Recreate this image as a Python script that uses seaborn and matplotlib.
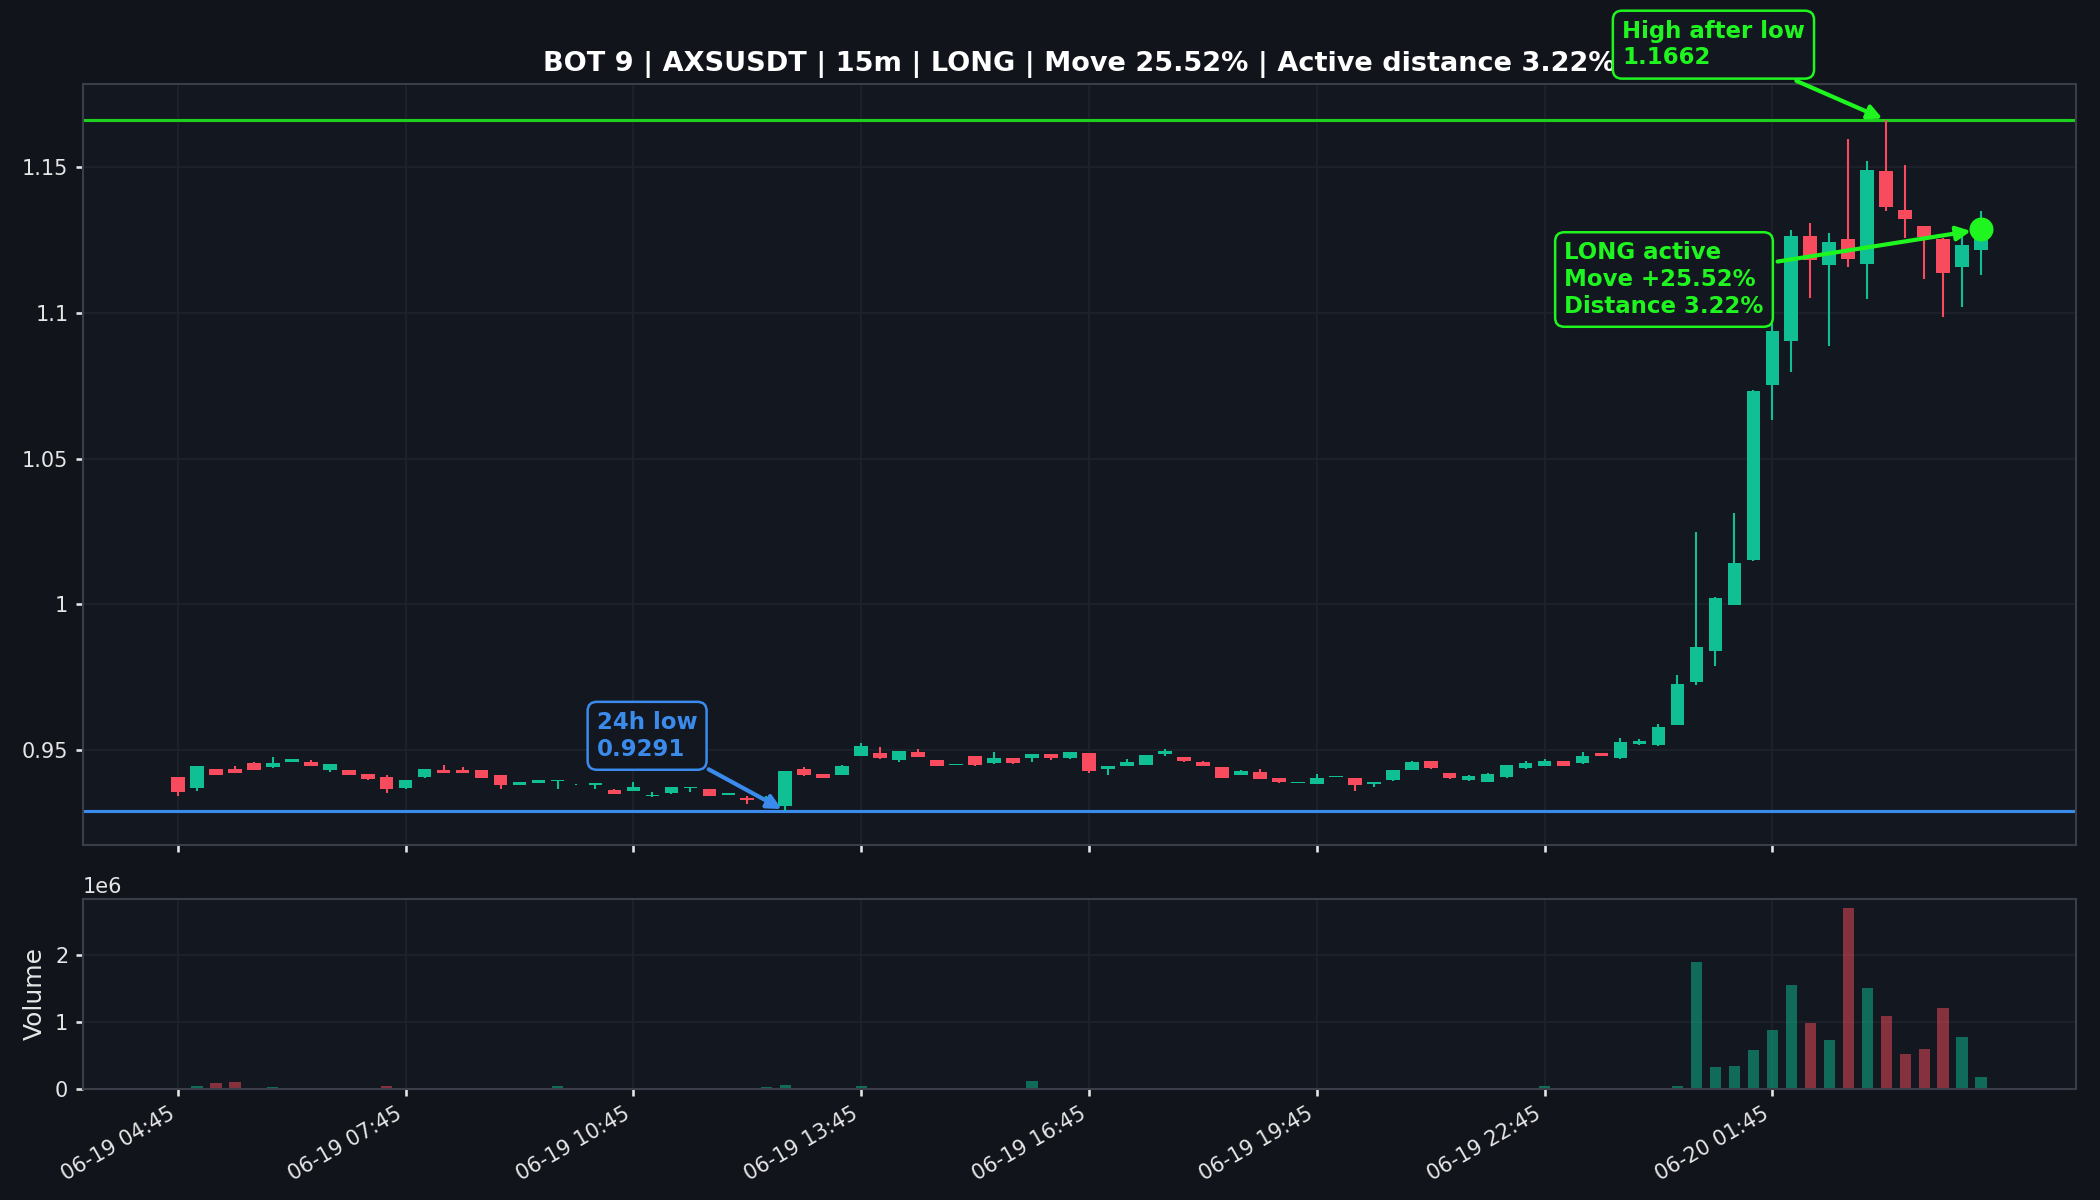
import matplotlib
matplotlib.use("Agg")
import matplotlib.pyplot as plt
import seaborn as sns
import numpy as np
import pandas as pd
from matplotlib.ticker import FuncFormatter, MultipleLocator

# AXSUSDT 15m candles, 06-19 04:45 -> 06-20 04:30
opens = [0.9407, 0.9369, 0.9434, 0.9436, 0.9456, 0.9441, 0.9459, 0.9458, 0.9430, 0.9430,
         0.9417, 0.9407, 0.9369, 0.9407, 0.9431, 0.9430, 0.9430, 0.9414, 0.9381, 0.9387,
         0.9395, 0.9382, 0.9379, 0.9364, 0.9359, 0.9343, 0.9352, 0.9370, 0.9365, 0.9347,
         0.9335, 0.9328, 0.9307, 0.9435, 0.9417, 0.9416, 0.9481, 0.9490, 0.9465, 0.9495,
         0.9465, 0.9450, 0.9479, 0.9454, 0.9473, 0.9472, 0.9486, 0.9472, 0.9490, 0.9434,
         0.9447, 0.9450, 0.9485, 0.9476, 0.9460, 0.9442, 0.9415, 0.9425, 0.9404, 0.9388,
         0.9385, 0.9409, 0.9404, 0.9382, 0.9396, 0.9433, 0.9463, 0.9421, 0.9396, 0.9392,
         0.9406, 0.9437, 0.9447, 0.9463, 0.9454, 0.9489, 0.9472, 0.9520, 0.9516, 0.9587,
         0.9734, 0.9841, 0.9999, 1.0151, 1.0753, 1.0903, 1.1266, 1.1164, 1.1254, 1.1167,
         1.1487, 1.1354, 1.1297, 1.1254, 1.1157, 1.1218]
highs = [0.9409, 0.9446, 0.9435, 0.9445, 0.9460, 0.9476, 0.9470, 0.9465, 0.9453, 0.9431,
         0.9418, 0.9415, 0.9398, 0.9436, 0.9449, 0.9441, 0.9431, 0.9415, 0.9391, 0.9398,
         0.9397, 0.9383, 0.9388, 0.9365, 0.9390, 0.9356, 0.9374, 0.9373, 0.9366, 0.9354,
         0.9344, 0.9342, 0.9428, 0.9441, 0.9418, 0.9448, 0.9524, 0.9510, 0.9497, 0.9504,
         0.9466, 0.9453, 0.9480, 0.9493, 0.9474, 0.9487, 0.9487, 0.9494, 0.9491, 0.9445,
         0.9470, 0.9484, 0.9504, 0.9477, 0.9461, 0.9443, 0.9432, 0.9436, 0.9405, 0.9391,
         0.9419, 0.9411, 0.9405, 0.9391, 0.9433, 0.9461, 0.9464, 0.9422, 0.9413, 0.9420,
         0.9450, 0.9461, 0.9470, 0.9464, 0.9493, 0.9490, 0.9542, 0.9538, 0.9590, 0.9759,
         1.0248, 1.0024, 1.0313, 1.0735, 1.0964, 1.1285, 1.1310, 1.1276, 1.1598, 1.1522,
         1.1662, 1.1508, 1.1297, 1.1259, 1.1271, 1.1351]
lows = [0.9344, 0.9358, 0.9413, 0.9420, 0.9432, 0.9440, 0.9458, 0.9446, 0.9426, 0.9414,
        0.9396, 0.9354, 0.9368, 0.9403, 0.9420, 0.9420, 0.9403, 0.9365, 0.9380, 0.9386,
        0.9365, 0.9381, 0.9365, 0.9349, 0.9358, 0.9339, 0.9351, 0.9356, 0.9343, 0.9346,
        0.9315, 0.9326, 0.9291, 0.9412, 0.9403, 0.9415, 0.9480, 0.9471, 0.9458, 0.9475,
        0.9444, 0.9449, 0.9447, 0.9453, 0.9453, 0.9458, 0.9467, 0.9471, 0.9420, 0.9415,
        0.9446, 0.9449, 0.9479, 0.9460, 0.9446, 0.9403, 0.9414, 0.9401, 0.9388, 0.9387,
        0.9384, 0.9408, 0.9361, 0.9372, 0.9395, 0.9430, 0.9436, 0.9402, 0.9395, 0.9391,
        0.9405, 0.9436, 0.9446, 0.9446, 0.9453, 0.9480, 0.9471, 0.9519, 0.9515, 0.9586,
        0.9725, 0.9788, 0.9998, 1.0150, 1.0632, 1.0799, 1.1053, 1.0887, 1.1157, 1.1048,
        1.1349, 1.1259, 1.1116, 1.0986, 1.1020, 1.1131]
closes = [0.9356, 0.9445, 0.9416, 0.9421, 0.9433, 0.9456, 0.9468, 0.9447, 0.9452, 0.9415,
          0.9400, 0.9365, 0.9397, 0.9435, 0.9421, 0.9421, 0.9404, 0.9381, 0.9390, 0.9397,
          0.9397, 0.9383, 0.9387, 0.9350, 0.9373, 0.9345, 0.9373, 0.9372, 0.9344, 0.9353,
          0.9327, 0.9330, 0.9427, 0.9413, 0.9404, 0.9447, 0.9513, 0.9472, 0.9496, 0.9476,
          0.9445, 0.9452, 0.9448, 0.9473, 0.9454, 0.9486, 0.9472, 0.9493, 0.9427, 0.9444,
          0.9458, 0.9483, 0.9498, 0.9461, 0.9447, 0.9404, 0.9428, 0.9402, 0.9392, 0.9390,
          0.9404, 0.9410, 0.9379, 0.9390, 0.9432, 0.9460, 0.9437, 0.9403, 0.9412, 0.9419,
          0.9449, 0.9456, 0.9463, 0.9447, 0.9480, 0.9481, 0.9527, 0.9532, 0.9580, 0.9728,
          0.9855, 1.0023, 1.0143, 1.0734, 1.0939, 1.1266, 1.1181, 1.1245, 1.1184, 1.1491,
          1.1365, 1.1322, 1.1262, 1.1136, 1.1233, 1.1287]
volumes = [10000, 50000, 95000, 110000, 8000, 35000, 6000, 5000, 4000, 3000,
           8000, 50000, 5000, 4000, 6000, 20000, 5000, 20000, 4000, 5000,
           50000, 3000, 5000, 20000, 20000, 4000, 6000, 20000, 6000, 5000,
           8000, 35000, 65000, 20000, 5000, 8000, 50000, 6000, 5000, 4000,
           20000, 3000, 6000, 5000, 4000, 115000, 20000, 6000, 12000, 5000,
           6000, 4000, 5000, 3000, 4000, 6000, 5000, 4000, 3000, 2000,
           4000, 3000, 6000, 3000, 5000, 4000, 3000, 4000, 3000, 5000,
           6000, 4000, 40000, 4000, 5000, 3000, 15000, 4000, 8000, 50000,
           1900000, 336000, 350000, 576000, 877000, 1554000, 982000, 727000, 2710000, 1509000,
           1088000, 531000, 591000, 1208000, 772000, 185000]
tick_pos = [0, 12, 24, 36, 48, 60, 72, 84]
tick_labels = ["06-19 04:45", "06-19 07:45", "06-19 10:45", "06-19 13:45",
               "06-19 16:45", "06-19 19:45", "06-19 22:45", "06-20 01:45"]

low_idx, low_val = 32, 0.9291
high_idx, high_val = 90, 1.1662
last_idx, last_val = 95, 1.1287

bg = "#11141b"
face = "#131720"
up_c = "#10bf94"
dn_c = "#f84b5d"
lime = "#1ff51f"
lime_line = "#1fcf1f"
blue = "#3a8bec"

sns.set_theme(style="darkgrid", rc={
    "figure.facecolor": bg, "axes.facecolor": face, "axes.edgecolor": "#3a3e48",
    "grid.color": "#1e222a", "grid.linewidth": 0.8, "text.color": "white",
    "axes.labelcolor": "#e6e6e6", "xtick.color": "#e6e6e6", "ytick.color": "#e6e6e6",
    "xtick.bottom": True, "ytick.left": True, "xtick.major.size": 3.5, "ytick.major.size": 3.5,
    "axes.linewidth": 1.0, "font.size": 10, "xtick.labelsize": 10, "ytick.labelsize": 10,
})
plt.rcParams['font.family'] = ['DejaVu Sans']

df = pd.DataFrame({"Open": opens, "High": highs, "Low": lows, "Close": closes, "Volume": volumes})
df["x"] = np.arange(len(df))
df["up"] = df["Close"] >= df["Open"]
df["color"] = np.where(df["up"], up_c, dn_c)

fig = plt.figure(figsize=(14, 8), dpi=150)
gs = fig.add_gridspec(2, 1, height_ratios=[4, 1], left=0.0395, right=0.9886,
                      top=0.93, bottom=0.0925, hspace=0.1136)
ax = fig.add_subplot(gs[0])
ax2 = fig.add_subplot(gs[1], sharex=ax)

# candles
ax.vlines(df["x"], df["Low"], df["High"], colors=df["color"], linewidth=1.0, zorder=2)
body_lo = np.minimum(df["Open"], df["Close"])
body_h = np.maximum(np.abs(df["Close"] - df["Open"]), 0.0002)
ax.bar(df["x"], body_h, bottom=body_lo, width=0.72, color=df["color"], linewidth=0, zorder=3)

ax.axhline(high_val, color=lime_line, lw=1.5, zorder=1)
ax.axhline(low_val, color=blue, lw=1.5, zorder=1)

ax.annotate("24h low\n0.9291", xy=(low_idx, low_val), xytext=(22.07, 0.9549),
            ha="left", va="center", color=blue, fontsize=11, fontweight="bold",
            bbox=dict(boxstyle="round,pad=0.4", fc=face, ec=blue, lw=1.2),
            arrowprops=dict(arrowstyle="-|>", color=blue, lw=2, mutation_scale=14), zorder=6)
ax.annotate("High after low\n1.1662", xy=(high_idx, high_val), xytext=(76.08, 1.1921),
            ha="left", va="center", color=lime, fontsize=11, fontweight="bold",
            bbox=dict(boxstyle="round,pad=0.4", fc=face, ec=lime, lw=1.2),
            arrowprops=dict(arrowstyle="-|>", color=lime, lw=2, mutation_scale=14),
            annotation_clip=False, zorder=6)
ax.annotate("LONG active\nMove +25.52%\nDistance 3.22%", xy=(last_idx, last_val),
            xytext=(73.04, 1.1115), ha="left", va="center", color=lime, fontsize=11,
            fontweight="bold", bbox=dict(boxstyle="round,pad=0.4", fc=face, ec=lime, lw=1.2),
            arrowprops=dict(arrowstyle="-|>", color=lime, lw=2, mutation_scale=14, shrinkB=5),
            zorder=6)
ax.plot([last_idx], [last_val], "o", color=lime, markersize=10.5, zorder=7)

ax.set_xlim(-5, 100)
ax.set_ylim(0.9175, 1.1786)
ax.yaxis.set_major_locator(MultipleLocator(0.05))
ax.yaxis.set_major_formatter(FuncFormatter(lambda v, _: f"{v:g}"))
ax.set_title("BOT 9 | AXSUSDT | 15m | LONG | Move 25.52% | Active distance 3.22%",
             fontsize=13, fontweight="bold", color="white")
ax.tick_params(axis="x", labelbottom=False)

# volume
ax2.bar(df["x"], df["Volume"], width=0.6, color=df["color"], alpha=0.5, linewidth=0)
ax2.yaxis.set_major_locator(MultipleLocator(1e6))
ax2.set_ylabel("Volume")
ax2.set_xticks(tick_pos)
ax2.set_xticklabels(tick_labels, rotation=30, ha="right")
ax2.yaxis.get_offset_text().set_color("#e6e6e6")

fig.savefig("out.png", dpi=150, facecolor=bg)
